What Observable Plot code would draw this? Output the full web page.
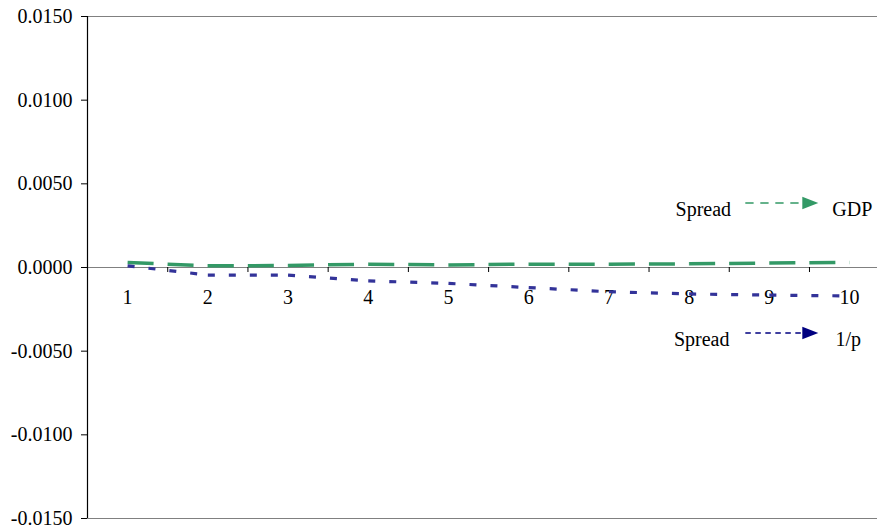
<!DOCTYPE html>
<html>
<head>
<meta charset="utf-8">
<script src="https://cdn.jsdelivr.net/npm/d3@7"></script>
<script src="https://cdn.jsdelivr.net/npm/@observablehq/plot@0.6"></script>
<style>
  html, body { margin: 0; padding: 0; background: #fff; overflow: hidden; }
  #chart svg { display: block; overflow: hidden; }
</style>
</head>
<body>
<div id="chart"></div>
<script>
// ---- data ----
const categories = [1, 2, 3, 4, 5, 6, 7, 8, 9, 10];
const spreadToGDP = [0.0003, 0.0001, 0.00012, 0.0002, 0.00015, 0.0002, 0.0002, 0.00022, 0.00027, 0.0003];
const spreadToInvP = [0.0001, -0.00045, -0.00045, -0.0008, -0.00095, -0.0012, -0.00145, -0.00158, -0.00165, -0.0017];
const yTicks = [-0.015, -0.01, -0.005, 0, 0.005, 0.01, 0.015];
const boundaries = [1.5, 2.5, 3.5, 4.5, 5.5, 6.5, 7.5, 8.5, 9.5];

// annotation labels (data coordinates)
const annFrom = ["Spread", "Spread"];
const annTo = ["GDP", "1/p"];
const annColors = ["#339966", "#000080"];
const annTextX = [7.83, 7.81];
const annTextY = [0.00349, -0.00428];
const annArrowX1 = [8.70, 8.70];
const annArrowX2 = [9.40, 9.40];
const annHeadX = [9.51, 9.51];
const annArrowY = [0.00385, -0.00391];
const annToX = [9.784, 9.825];

const segs = vals => vals.slice(1).map((v, i) => ({x1: categories[i], y1: vals[i], x2: categories[i + 1], y2: v}));
const ann = annFrom.map((t, i) => ({
  from: t, to: annTo[i], color: annColors[i],
  tx: annTextX[i], ty: annTextY[i], ax1: annArrowX1[i], ax2: annArrowX2[i],
  hx: annHeadX[i], ay: annArrowY[i], toX: annToX[i]
}));

const rightTri = {
  draw(ctx, size) {
    const r = Math.sqrt(size / Math.PI);
    ctx.moveTo(r, 0);
    ctx.lineTo(-r, -r * 0.78);
    ctx.lineTo(-r, r * 0.78);
    ctx.closePath();
  }
};

const font = "'Liberation Serif'";

const chart = Plot.plot({
  width: 877,
  height: 529,
  marginLeft: 87,
  marginRight: 0,
  marginTop: 16,
  marginBottom: 11,
  style: {fontFamily: font, fontSize: "20px", background: "#fff", color: "#000"},
  x: {type: "linear", domain: [0.5, 10.5], range: [87, 889.2], axis: null},
  y: {
    domain: [-0.015, 0.015],
    ticks: yTicks,
    tickFormat: d => d.toFixed(4),
    tickSize: 6,
    tickPadding: 9,
    label: null,
    axis: "left"
  },
  marks: [
    Plot.ruleY([0.015, -0.015, 0], {stroke: "#808080", strokeWidth: 1.2}),
    Plot.ruleX(boundaries, {x: d => d, y1: 0, y2: -0.0003, stroke: "#000", strokeWidth: 1}),
    Plot.ruleX([0.5], {stroke: "#000", strokeWidth: 1.2}),
    Plot.text(categories, {x: d => d, y: 0, dy: 30, text: d => String(d), fontSize: 20, fill: "#000"}),
    Plot.link(segs(spreadToGDP), {x1: "x1", y1: "y1", x2: "x2", y2: "y2", stroke: "#339966", strokeWidth: 3.5, strokeDasharray: "26,14"}),
    Plot.link(segs(spreadToInvP), {x1: "x1", y1: "y1", x2: "x2", y2: "y2", stroke: "#333399", strokeWidth: 3.2, strokeDasharray: "7,14"}),
    Plot.text(ann, {x: "tx", y: "ty", text: "from", textAnchor: "start", fontSize: 20, fill: "#000"}),
    Plot.text(ann, {x: "toX", y: "ty", text: "to", textAnchor: "start", fontSize: 20, fill: "#000"}),
    Plot.link(ann.slice(0, 1), {x1: "ax1", y1: "ay", x2: "ax2", y2: "ay", stroke: "color", strokeWidth: 1.5, strokeDasharray: "8.3,6.7"}),
    Plot.link(ann.slice(1, 2), {x1: "ax1", y1: "ay", x2: "ax2", y2: "ay", stroke: "color", strokeWidth: 1.5, strokeDasharray: "5.5,4.5"}),
    Plot.dot(ann, {x: "hx", y: "ay", r: 8, symbol: rightTri, fill: "color", stroke: "none"})
  ]
});
document.getElementById("chart").appendChild(chart);
</script>
</body>
</html>
